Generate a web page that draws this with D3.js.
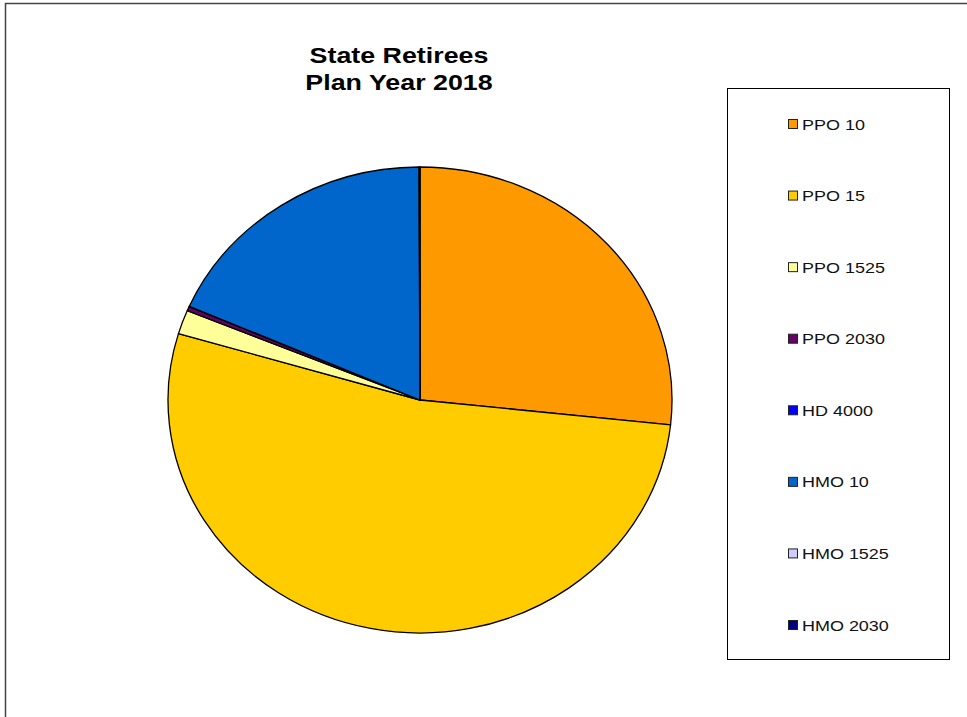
<!DOCTYPE html>
<html>
<head>
<meta charset="utf-8">
<script src="https://cdn.jsdelivr.net/npm/d3@7"></script>
<style>
  body { margin: 0; background: #fff; }
  svg { display: block; font-family: "Liberation Sans", Arial, sans-serif; }
</style>
</head>
<body>
<div id="chart"></div>
<script>
// plan categories and share of enrollment (%)
const plans = ["PPO 10", "PPO 15", "PPO 1525", "PPO 2030", "HD 4000", "HMO 10", "HMO 1525", "HMO 2030"];
const shares = [26.7, 52.9, 1.67, 0.3, 0.02, 18.35, 0.03, 0.03];
const colors = ["#FF9900", "#FFCC00", "#FFFF99", "#660066", "#0000FF", "#0066CC", "#CCCCFF", "#000080"];
const titleLines = ["State Retirees", "Plan Year 2018"];

const width = 967, height = 717;

const svg = d3.select("#chart").append("svg")
    .attr("width", width)
    .attr("height", height);

// outer chart frame (runs off the right/bottom edge)
svg.append("rect")
    .attr("x", 5.5)
    .attr("y", 3.5)
    .attr("width", width + 20)
    .attr("height", height + 20)
    .attr("fill", "none")
    .attr("stroke", "#444")
    .attr("stroke-width", 1.5);

// title - glyphs in the original are a bit wider than Arial
svg.append("g")
    .selectAll("text")
    .data(titleLines)
    .join("text")
    .attr("text-anchor", "middle")
    .attr("font-weight", "bold")
    .attr("font-size", 22)
    .attr("transform", (d, i) => `translate(399,${63 + i * 27}) scale(1.22,1)`)
    .text(d => d);

// pie (drawn as an ellipse)
const rx = 252, ry = 233;
const pie = d3.pie().sort(null).value(d => d.value);
const arc = d3.arc().innerRadius(0).outerRadius(rx);
const data = plans.map((p, i) => ({plan: p, value: shares[i], color: colors[i]}));

const pieG = svg.append("g")
    .attr("transform", `translate(420,400) scale(1,${ry / rx})`);

pieG.selectAll("path")
    .data(pie(data))
    .join("path")
    .attr("d", arc)
    .attr("fill", d => d.data.color)
    .attr("stroke", "#000")
    .attr("stroke-width", 1.3)
    .attr("vector-effect", "non-scaling-stroke")
    .attr("stroke-linejoin", "round");

// legend
const legend = svg.append("g");
legend.append("rect")
    .attr("x", 727.5)
    .attr("y", 88.5)
    .attr("width", 222)
    .attr("height", 571)
    .attr("fill", "#fff")
    .attr("stroke", "#000")
    .attr("stroke-width", 1);

const ly = d3.scalePoint().domain(plans).range([124, 625]);

const items = legend.selectAll("g.item")
    .data(data)
    .join("g")
    .attr("class", "item")
    .attr("transform", d => `translate(788,${ly(d.plan)})`);

items.append("rect")
    .attr("x", 0.5)
    .attr("y", -4.5)
    .attr("width", 9)
    .attr("height", 9)
    .attr("fill", d => d.color)
    .attr("stroke", "#222")
    .attr("stroke-width", 1);

items.append("text")
    .attr("transform", "translate(14,0) scale(1.16,1)")
    .attr("dy", "0.36em")
    .attr("font-size", 15.5)
    .attr("fill", "#111")
    .text(d => d.plan);
</script>
</body>
</html>
